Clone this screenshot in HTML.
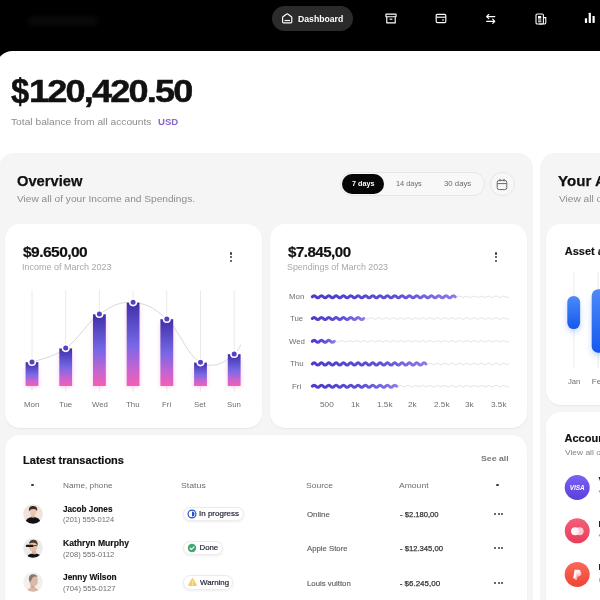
<!DOCTYPE html>
<html lang="en">
<head>
<meta charset="utf-8">
<title>Dashboard</title>
<style>
*{box-sizing:border-box;margin:0;padding:0}
html,body{width:600px;height:600px;overflow:hidden;background:#000;font-family:"Liberation Sans",sans-serif;color:#111}
.abs{position:absolute}
#root{position:relative;width:600px;height:600px;overflow:hidden;background:#000}
.t{position:absolute;white-space:nowrap;line-height:1;transform-origin:0 0}
.b{font-weight:700}
#main{left:-3.6px;top:50.7px;width:620px;height:560px;background:#fff;border-radius:16.6px 0 0 0}
#ov{left:-1px;top:153px;width:533.5px;height:460px;background:#f5f5f5;border-radius:15px 15px 0 0}
#ya{left:540px;top:153px;width:80px;height:460px;background:#f5f5f5;border-radius:15px 0 0 0}
.card{position:absolute;background:#fff;border-radius:15px;box-shadow:0 1px 2px rgba(0,0,0,.06)}
.pill{position:absolute;border-radius:20px}
.badge{position:absolute;height:14.4px;border-radius:8px;background:#fff;border:1px solid #ececec;box-shadow:0 1px 3px rgba(0,0,0,.07)}
.dot{position:absolute;border-radius:50%}
</style>
</head>
<body>
<div id="root">
  <!-- NAV -->
  <div class="abs" style="left:28px;top:16px;width:70px;height:10px;background:#090909;border-radius:5px;filter:blur(2px)"></div>
  <div class="pill" style="left:272px;top:6.3px;width:81px;height:25.2px;background:#2b2b2b"></div>
  <svg class="abs" style="left:281px;top:12px" width="13" height="13" viewBox="0 0 13 13" fill="none" stroke="#fff" stroke-width="1.15" stroke-linejoin="round"><path d="M1.6 5.5 Q1.6 5 2 4.7 L5.7 2 Q6.2 1.6 6.7 2 L10.4 4.7 Q10.8 5 10.8 5.5 V9.9 Q10.8 10.8 9.9 10.8 H2.5 Q1.6 10.8 1.6 9.9 Z"/><path d="M3.5 8.5 H8.9"/></svg>
  <svg class="abs" style="left:385px;top:13px" width="12" height="11" viewBox="0 0 12 11" fill="none" stroke="#fff" stroke-width="1.15"><rect x="0.9" y="1.1" width="10.2" height="2.6" rx=".5"/><path d="M1.8 3.7 V9.9 H10.2 V3.7"/><path d="M4.6 6.2 H7.4"/></svg>
  <svg class="abs" style="left:434.5px;top:13px" width="12" height="11" viewBox="0 0 12 11" fill="none" stroke="#fff" stroke-width="1.15"><rect x="1.2" y="1.4" width="9.6" height="8.2" rx="1.2"/><path d="M1.2 4.2 H10.8"/><path d="M7 7 H9"/></svg>
  <svg class="abs" style="left:484.5px;top:12.5px" width="12" height="12" viewBox="0 0 12 12" fill="none" stroke="#fff" stroke-width="1.15" stroke-linecap="round" stroke-linejoin="round"><path d="M9.8 3.6 H1.8 M3.7 1.5 L1.6 3.6 L3.7 5.7"/><path d="M1.6 8.3 H9.6 M7.7 6.2 L9.8 8.3 L7.7 10.4"/></svg>
  <svg class="abs" style="left:534.5px;top:12.5px" width="12" height="12" viewBox="0 0 12 12" fill="none" stroke="#fff" stroke-width="1.1"><rect x="1" y="1" width="7.4" height="10" rx="1.2"/><path d="M8.4 4.6 H10.8 V9.8 Q10.8 11 9.6 11 H4"/><rect x="3" y="3" width="3.2" height="2.6" fill="#fff" stroke="none"/><path d="M3 7 H6.4 M3 8.8 H6.4"/></svg>
  <svg class="abs" style="left:584.3px;top:12.1px" width="12" height="12" viewBox="0 0 12 12" fill="#fff"><rect x="0.9" y="6.2" width="2.2" height="4.8" rx=".4"/><rect x="4.7" y="0.8" width="2.2" height="10.2" rx=".4"/><rect x="8.5" y="4" width="2.2" height="7" rx=".4"/></svg>

  <!-- MAIN WHITE -->
  <div id="main" class="abs"></div>
  <div id="ov" class="abs"></div>
  <div id="ya" class="abs"></div>

  <!-- range pills -->
  <div class="pill" style="left:340px;top:171.5px;width:144.5px;height:24.5px;border:1px solid #e6e6e6;background:#f8f8f8"></div>
  <div class="pill" style="left:342.2px;top:173.8px;width:41.6px;height:20.2px;background:#060606"></div>
  <div class="pill" style="left:490px;top:171.5px;width:24.5px;height:24.5px;border:1px solid #e4e4e4;background:#f8f8f8"></div>
  <svg class="abs" style="left:496.3px;top:177.8px" width="12" height="13" viewBox="0 0 12 13" fill="none" stroke="#686868" stroke-width="1"><rect x="1.2" y="2.4" width="9.6" height="9.2" rx="2"/><path d="M1.2 5.6 H10.8 M4 0.8 V3.4 M8 0.8 V3.4"/></svg>

  <!-- CARDS -->
  <div class="card" style="left:4.6px;top:224px;width:257.8px;height:204px"></div>
  <div class="card" style="left:269.6px;top:224px;width:257.8px;height:204px"></div>
  <div class="card" style="left:4.6px;top:435.1px;width:522.8px;height:200px"></div>
  <div class="card" style="left:545.8px;top:224px;width:80px;height:180.5px"></div>
  <div class="card" style="left:545.8px;top:412px;width:80px;height:220px"></div>

  <!-- kebab menus -->

  <div class="dot" style="left:230.20px;top:252.40px;width:2.2px;height:2.2px;background:#3a3a3a"></div>
  <div class="dot" style="left:230.20px;top:256.20px;width:2.2px;height:2.2px;background:#3a3a3a"></div>
  <div class="dot" style="left:230.20px;top:260.00px;width:2.2px;height:2.2px;background:#3a3a3a"></div>
  <div class="dot" style="left:495.00px;top:252.40px;width:2.2px;height:2.2px;background:#3a3a3a"></div>
  <div class="dot" style="left:495.00px;top:256.20px;width:2.2px;height:2.2px;background:#3a3a3a"></div>
  <div class="dot" style="left:495.00px;top:260.00px;width:2.2px;height:2.2px;background:#3a3a3a"></div>
  <div class="dot" style="left:31.20px;top:483.70px;width:2.8px;height:2.8px;background:#3a3a3a"></div>
  <div class="dot" style="left:495.90px;top:483.60px;width:2.8px;height:2.8px;background:#3a3a3a"></div>
  <div class="dot" style="left:493.80px;top:512.80px;width:2.2px;height:2.2px;background:#3a3a3a"></div>
  <div class="dot" style="left:497.55px;top:512.80px;width:2.2px;height:2.2px;background:#3a3a3a"></div>
  <div class="dot" style="left:501.30px;top:512.80px;width:2.2px;height:2.2px;background:#3a3a3a"></div>
  <div class="dot" style="left:493.80px;top:547.20px;width:2.2px;height:2.2px;background:#3a3a3a"></div>
  <div class="dot" style="left:497.55px;top:547.20px;width:2.2px;height:2.2px;background:#3a3a3a"></div>
  <div class="dot" style="left:501.30px;top:547.20px;width:2.2px;height:2.2px;background:#3a3a3a"></div>
  <div class="dot" style="left:493.80px;top:581.60px;width:2.2px;height:2.2px;background:#3a3a3a"></div>
  <div class="dot" style="left:497.55px;top:581.60px;width:2.2px;height:2.2px;background:#3a3a3a"></div>
  <div class="dot" style="left:501.30px;top:581.60px;width:2.2px;height:2.2px;background:#3a3a3a"></div>
  <!-- CHARTS -->
  <svg class="abs" style="left:0;top:0" width="600" height="600" viewBox="0 0 600 600">
    <defs>
      <linearGradient id="bg0" gradientUnits="userSpaceOnUse" x1="0" y1="362.2" x2="0" y2="386.0"><stop offset="0" stop-color="#3f2fa8"/><stop offset="0.5" stop-color="#7667e6"/><stop offset="0.78" stop-color="#c264d2"/><stop offset="1" stop-color="#f45fb4"/></linearGradient><linearGradient id="bg1" gradientUnits="userSpaceOnUse" x1="0" y1="348.4" x2="0" y2="386.0"><stop offset="0" stop-color="#3f2fa8"/><stop offset="0.5" stop-color="#7667e6"/><stop offset="0.78" stop-color="#c264d2"/><stop offset="1" stop-color="#f45fb4"/></linearGradient><linearGradient id="bg2" gradientUnits="userSpaceOnUse" x1="0" y1="314.3" x2="0" y2="386.0"><stop offset="0" stop-color="#3f2fa8"/><stop offset="0.5" stop-color="#7667e6"/><stop offset="0.78" stop-color="#c264d2"/><stop offset="1" stop-color="#f45fb4"/></linearGradient><linearGradient id="bg3" gradientUnits="userSpaceOnUse" x1="0" y1="302.6" x2="0" y2="386.0"><stop offset="0" stop-color="#3f2fa8"/><stop offset="0.5" stop-color="#7667e6"/><stop offset="0.78" stop-color="#c264d2"/><stop offset="1" stop-color="#f45fb4"/></linearGradient><linearGradient id="bg4" gradientUnits="userSpaceOnUse" x1="0" y1="319.2" x2="0" y2="386.0"><stop offset="0" stop-color="#3f2fa8"/><stop offset="0.5" stop-color="#7667e6"/><stop offset="0.78" stop-color="#c264d2"/><stop offset="1" stop-color="#f45fb4"/></linearGradient><linearGradient id="bg5" gradientUnits="userSpaceOnUse" x1="0" y1="362.6" x2="0" y2="386.0"><stop offset="0" stop-color="#3f2fa8"/><stop offset="0.5" stop-color="#7667e6"/><stop offset="0.78" stop-color="#c264d2"/><stop offset="1" stop-color="#f45fb4"/></linearGradient><linearGradient id="bg6" gradientUnits="userSpaceOnUse" x1="0" y1="354.2" x2="0" y2="386.0"><stop offset="0" stop-color="#3f2fa8"/><stop offset="0.5" stop-color="#7667e6"/><stop offset="0.78" stop-color="#c264d2"/><stop offset="1" stop-color="#f45fb4"/></linearGradient>
      <linearGradient id="wg" x1="0" y1="0" x2="1" y2="0"><stop offset="0" stop-color="#4b3bcc"/><stop offset="0.6" stop-color="#5f50d8"/><stop offset="1" stop-color="#8a7be8"/></linearGradient>
      <filter id="bl" x="-50%" y="-50%" width="200%" height="200%"><feGaussianBlur stdDeviation="2.2"/></filter>
      <filter id="bl2" x="-80%" y="-50%" width="260%" height="200%"><feGaussianBlur stdDeviation="3"/></filter>
      <linearGradient id="blu" x1="0" y1="0" x2="0" y2="1"><stop offset="0" stop-color="#4d8af8"/><stop offset="1" stop-color="#1558ee"/></linearGradient>
    </defs>
    <g stroke="#eaeaea" stroke-width="1"><path d="M32.00 290.5 V391.5"/><path d="M65.70 290.5 V391.5"/><path d="M99.40 290.5 V391.5"/><path d="M133.10 290.5 V391.5"/><path d="M166.80 290.5 V391.5"/><path d="M200.50 290.5 V391.5"/><path d="M234.20 290.5 V391.5"/></g>
    <path d="M32.0 362.2 C38.7 359.4 52.2 358.0 65.7 348.4 C79.2 338.8 85.9 323.5 99.4 314.3 C112.9 305.1 119.6 301.6 133.1 302.6 C146.6 303.6 153.3 307.2 166.8 319.2 C180.3 331.2 187.0 355.6 200.5 362.6 C214.0 369.6 226 361.5 234.2 354.2 C236.8 351.8 239 348.6 240.8 344.8" fill="none" stroke="#d9d9d9" stroke-width="1"/>
    <g fill="#f58fd6" opacity=".38" filter="url(#bl)"><rect x="25.10" y="366.2" width="13.8" height="20.8" rx="2"/><rect x="58.80" y="352.4" width="13.8" height="34.6" rx="2"/><rect x="92.50" y="318.3" width="13.8" height="68.7" rx="2"/><rect x="126.20" y="306.6" width="13.8" height="80.4" rx="2"/><rect x="159.90" y="323.2" width="13.8" height="63.8" rx="2"/><rect x="193.60" y="366.6" width="13.8" height="20.4" rx="2"/><rect x="227.30" y="358.2" width="13.8" height="28.8" rx="2"/></g>
    <rect x="25.60" y="362.2" width="12.8" height="23.8" fill="url(#bg0)"/><rect x="59.30" y="348.4" width="12.8" height="37.6" fill="url(#bg1)"/><rect x="93.00" y="314.3" width="12.8" height="71.7" fill="url(#bg2)"/><rect x="126.70" y="302.6" width="12.8" height="83.4" fill="url(#bg3)"/><rect x="160.40" y="319.2" width="12.8" height="66.8" fill="url(#bg4)"/><rect x="194.10" y="362.6" width="12.8" height="23.4" fill="url(#bg5)"/><rect x="227.80" y="354.2" width="12.8" height="31.8" fill="url(#bg6)"/>
    <circle cx="32.00" cy="361.9" r="3.3" fill="#5a3fc2" stroke="#fff" stroke-width="1.6"/><circle cx="65.70" cy="348.1" r="3.3" fill="#5a3fc2" stroke="#fff" stroke-width="1.6"/><circle cx="99.40" cy="314.0" r="3.3" fill="#5a3fc2" stroke="#fff" stroke-width="1.6"/><circle cx="133.10" cy="302.3" r="3.3" fill="#5a3fc2" stroke="#fff" stroke-width="1.6"/><circle cx="166.80" cy="318.9" r="3.3" fill="#5a3fc2" stroke="#fff" stroke-width="1.6"/><circle cx="200.50" cy="362.3" r="3.3" fill="#5a3fc2" stroke="#fff" stroke-width="1.6"/><circle cx="234.20" cy="353.9" r="3.3" fill="#5a3fc2" stroke="#fff" stroke-width="1.6"/>
    <path d="M311.00 296.80 q1.833 -1.60 3.665 0 t3.665 0 t3.665 0 t3.665 0 t3.665 0 t3.665 0 t3.665 0 t3.665 0 t3.665 0 t3.665 0 t3.665 0 t3.665 0 t3.665 0 t3.665 0 t3.665 0 t3.665 0 t3.665 0 t3.665 0 t3.665 0 t3.665 0 t3.665 0 t3.665 0 t3.665 0 t3.665 0 t3.665 0 t3.665 0 t3.665 0 t3.665 0 t3.665 0 t3.665 0 t3.665 0 t3.665 0 t3.665 0 t3.665 0 t3.665 0 t3.665 0 t3.665 0 t3.665 0 t3.665 0 t3.665 0 t3.665 0 t3.665 0 t3.665 0 t3.665 0 t3.665 0 t3.665 0 t3.665 0 t3.665 0 t3.665 0 t3.665 0 t3.665 0 t3.665 0 t3.665 0 t3.665 0" stroke="#e3e3e3" stroke-width="1" fill="none"/>
<path d="M311.00 318.50 q1.833 -1.60 3.665 0 t3.665 0 t3.665 0 t3.665 0 t3.665 0 t3.665 0 t3.665 0 t3.665 0 t3.665 0 t3.665 0 t3.665 0 t3.665 0 t3.665 0 t3.665 0 t3.665 0 t3.665 0 t3.665 0 t3.665 0 t3.665 0 t3.665 0 t3.665 0 t3.665 0 t3.665 0 t3.665 0 t3.665 0 t3.665 0 t3.665 0 t3.665 0 t3.665 0 t3.665 0 t3.665 0 t3.665 0 t3.665 0 t3.665 0 t3.665 0 t3.665 0 t3.665 0 t3.665 0 t3.665 0 t3.665 0 t3.665 0 t3.665 0 t3.665 0 t3.665 0 t3.665 0 t3.665 0 t3.665 0 t3.665 0 t3.665 0 t3.665 0 t3.665 0 t3.665 0 t3.665 0 t3.665 0" stroke="#e3e3e3" stroke-width="1" fill="none"/>
<path d="M311.00 341.30 q1.833 -1.60 3.665 0 t3.665 0 t3.665 0 t3.665 0 t3.665 0 t3.665 0 t3.665 0 t3.665 0 t3.665 0 t3.665 0 t3.665 0 t3.665 0 t3.665 0 t3.665 0 t3.665 0 t3.665 0 t3.665 0 t3.665 0 t3.665 0 t3.665 0 t3.665 0 t3.665 0 t3.665 0 t3.665 0 t3.665 0 t3.665 0 t3.665 0 t3.665 0 t3.665 0 t3.665 0 t3.665 0 t3.665 0 t3.665 0 t3.665 0 t3.665 0 t3.665 0 t3.665 0 t3.665 0 t3.665 0 t3.665 0 t3.665 0 t3.665 0 t3.665 0 t3.665 0 t3.665 0 t3.665 0 t3.665 0 t3.665 0 t3.665 0 t3.665 0 t3.665 0 t3.665 0 t3.665 0 t3.665 0" stroke="#e3e3e3" stroke-width="1" fill="none"/>
<path d="M311.00 363.90 q1.833 -1.60 3.665 0 t3.665 0 t3.665 0 t3.665 0 t3.665 0 t3.665 0 t3.665 0 t3.665 0 t3.665 0 t3.665 0 t3.665 0 t3.665 0 t3.665 0 t3.665 0 t3.665 0 t3.665 0 t3.665 0 t3.665 0 t3.665 0 t3.665 0 t3.665 0 t3.665 0 t3.665 0 t3.665 0 t3.665 0 t3.665 0 t3.665 0 t3.665 0 t3.665 0 t3.665 0 t3.665 0 t3.665 0 t3.665 0 t3.665 0 t3.665 0 t3.665 0 t3.665 0 t3.665 0 t3.665 0 t3.665 0 t3.665 0 t3.665 0 t3.665 0 t3.665 0 t3.665 0 t3.665 0 t3.665 0 t3.665 0 t3.665 0 t3.665 0 t3.665 0 t3.665 0 t3.665 0 t3.665 0" stroke="#e3e3e3" stroke-width="1" fill="none"/>
<path d="M311.00 386.20 q1.833 -1.60 3.665 0 t3.665 0 t3.665 0 t3.665 0 t3.665 0 t3.665 0 t3.665 0 t3.665 0 t3.665 0 t3.665 0 t3.665 0 t3.665 0 t3.665 0 t3.665 0 t3.665 0 t3.665 0 t3.665 0 t3.665 0 t3.665 0 t3.665 0 t3.665 0 t3.665 0 t3.665 0 t3.665 0 t3.665 0 t3.665 0 t3.665 0 t3.665 0 t3.665 0 t3.665 0 t3.665 0 t3.665 0 t3.665 0 t3.665 0 t3.665 0 t3.665 0 t3.665 0 t3.665 0 t3.665 0 t3.665 0 t3.665 0 t3.665 0 t3.665 0 t3.665 0 t3.665 0 t3.665 0 t3.665 0 t3.665 0 t3.665 0 t3.665 0 t3.665 0 t3.665 0 t3.665 0 t3.665 0" stroke="#e3e3e3" stroke-width="1" fill="none"/>
<path d="M312.30 296.80 q1.833 -2.10 3.665 0 t3.665 0 t3.665 0 t3.665 0 t3.665 0 t3.665 0 t3.665 0 t3.665 0 t3.665 0 t3.665 0 t3.665 0 t3.665 0 t3.665 0 t3.665 0 t3.665 0 t3.665 0 t3.665 0 t3.665 0 t3.665 0 t3.665 0 t3.665 0 t3.665 0 t3.665 0 t3.665 0 t3.665 0 t3.665 0 t3.665 0 t3.665 0 t3.665 0 t3.665 0 t3.665 0 t3.665 0 t3.665 0 t3.665 0 t3.665 0 t3.665 0 t3.665 0 t3.665 0 t3.665 0" stroke="url(#wg)" stroke-width="3" stroke-linecap="round" fill="none"/>
<path d="M312.30 318.50 q1.833 -2.10 3.665 0 t3.665 0 t3.665 0 t3.665 0 t3.665 0 t3.665 0 t3.665 0 t3.665 0 t3.665 0 t3.665 0 t3.665 0 t3.665 0 t3.665 0 t3.665 0" stroke="url(#wg)" stroke-width="3" stroke-linecap="round" fill="none"/>
<path d="M312.30 341.30 q1.833 -2.10 3.665 0 t3.665 0 t3.665 0 t3.665 0 t3.665 0 t3.665 0" stroke="url(#wg)" stroke-width="3" stroke-linecap="round" fill="none"/>
<path d="M312.30 363.90 q1.833 -2.10 3.665 0 t3.665 0 t3.665 0 t3.665 0 t3.665 0 t3.665 0 t3.665 0 t3.665 0 t3.665 0 t3.665 0 t3.665 0 t3.665 0 t3.665 0 t3.665 0 t3.665 0 t3.665 0 t3.665 0 t3.665 0 t3.665 0 t3.665 0 t3.665 0 t3.665 0 t3.665 0 t3.665 0 t3.665 0 t3.665 0 t3.665 0 t3.665 0 t3.665 0 t3.665 0 t3.665 0" stroke="url(#wg)" stroke-width="3" stroke-linecap="round" fill="none"/>
<path d="M312.30 386.20 q1.833 -2.10 3.665 0 t3.665 0 t3.665 0 t3.665 0 t3.665 0 t3.665 0 t3.665 0 t3.665 0 t3.665 0 t3.665 0 t3.665 0 t3.665 0 t3.665 0 t3.665 0 t3.665 0 t3.665 0 t3.665 0 t3.665 0 t3.665 0 t3.665 0 t3.665 0 t3.665 0 t3.665 0" stroke="url(#wg)" stroke-width="3" stroke-linecap="round" fill="none"/>

    <!-- asset chart -->
    <path d="M573.9 271.5 V368.5 M598.2 271.5 V368.5" stroke="#ebebeb" stroke-width="1"/>
    <rect x="567.3" y="300" width="12.8" height="32" rx="6.4" fill="#3b7bf7" opacity=".3" filter="url(#bl2)"/>
    <rect x="591.7" y="296" width="14" height="60" rx="6.4" fill="#3b7bf7" opacity=".3" filter="url(#bl2)"/>
    <rect x="567.3" y="296" width="12.8" height="33" rx="6.4" fill="url(#blu)"/>
    <rect x="591.7" y="289.3" width="14" height="63.4" rx="6.4" fill="url(#blu)"/>
  </svg>

  <!-- TRANSACTIONS -->

  <div class="badge" style="left:182.5px;top:506.6px;width:61.8px"></div>
  <div class="badge" style="left:182.5px;top:540.8px;width:40.4px"></div>
  <div class="badge" style="left:182.5px;top:575.2px;width:50.8px"></div>
  <svg class="abs" style="left:187.1px;top:508.9px" width="10" height="10" viewBox="0 0 10 10"><circle cx="5" cy="5" r="3.9" fill="#fff" stroke="#2452c8" stroke-width="1.15"/><path d="M5 2.5 A2.5 2.5 0 0 1 5 7.5 Z" fill="#2452c8"/></svg>
  <svg class="abs" style="left:187.1px;top:543px" width="10" height="10" viewBox="0 0 10 10"><circle cx="5" cy="5" r="4.2" fill="#3fa873"/><path d="M3.1 5.1 L4.5 6.5 L7 3.8" fill="none" stroke="#fff" stroke-width="1.1" stroke-linecap="round" stroke-linejoin="round"/></svg>
  <svg class="abs" style="left:186.9px;top:577.4px" width="11" height="10" viewBox="0 0 11 10"><path d="M5.5 1.9 L9.2 8.2 H1.8 Z" fill="#f8cc63" stroke="#f8cc63" stroke-width="1.4" stroke-linejoin="round"/><path d="M5.5 4.2 V6.2 M5.5 7.4 V7.6" stroke="#fdeec4" stroke-width=".8" stroke-linecap="round"/></svg>

  <!-- avatars -->
  <svg class="abs" style="left:22.8px;top:504px" width="20" height="20" viewBox="0 0 20 20"><defs><clipPath id="av"><circle cx="10" cy="10" r="9.8"/></clipPath></defs><g clip-path="url(#av)"><rect width="20" height="20" fill="#f0e3dc"/><path d="M2 20 Q2.6 13 10 13 Q17.4 13 18 20 Z" fill="#121212"/><path d="M8.2 9.5 H11.8 V13 Q10 14.6 8.2 13 Z" fill="#e0b7a1"/><ellipse cx="10" cy="7.6" rx="3.2" ry="3.9" fill="#ebc5af"/><path d="M6 7.2 Q5.2 1.8 10 1.9 Q15 1.8 14 7.2 Q13.2 4.9 10.6 5.1 Q7.4 4.9 6 7.2 Z" fill="#3a2a22"/></g></svg>
  <svg class="abs" style="left:22.8px;top:537.8px" width="20" height="20" viewBox="0 0 20 20"><g clip-path="url(#av)"><rect width="20" height="20" fill="#ebebeb"/><path d="M3.6 20 Q4.6 15.6 11 15.6 Q17.6 15.6 18.6 20 Z" fill="#141414"/><path d="M9 10.5 H13 V16 Q11 17 9 15.6 Z" fill="#dbb098"/><path d="M5.6 7.6 Q5.6 3 9.8 2.8 Q14.4 2.8 14.4 7.8 Q14.4 13.4 10.2 13.4 Q7 13.4 6.2 10.6 Z" fill="#e8bfa7"/><path d="M6 5.6 Q6.8 1.6 10.8 1.8 Q15.4 2.2 14.6 7.8 Q13.2 4.6 10 4.8 Q7.4 4.8 6 5.6 Z" fill="#4a392d"/><rect x="2.8" y="6.8" width="7.8" height="2.2" rx=".9" fill="#1a1413"/><path d="M10.6 7.6 H14" stroke="#1a1413" stroke-width=".7"/></g></svg>
  <svg class="abs" style="left:22.8px;top:572.2px" width="20" height="20" viewBox="0 0 20 20"><g clip-path="url(#av)"><rect width="20" height="20" fill="#f3efec"/><path d="M3.6 20 Q5 15.4 10 15 Q14.6 15.4 16 20 Z" fill="#d8b8a5"/><path d="M7.6 10.6 H11.6 V15.6 Q9.6 16.4 7.6 15.4 Z" fill="#cdaa96"/><path d="M5.8 7.6 Q5.8 2.6 10.2 2.4 Q14.8 2.6 14.8 7.4 Q15 11 14 12.4 Q13 13.8 10.8 13.8 Q7.2 13.6 6.4 10.8 Z" fill="#dbbaa7"/><path d="M5.8 7 Q5.8 2.2 10.4 2.2 Q13.6 2.2 14.4 4.8 Q11.4 3.8 9.6 5.6 Q8.6 7.6 7.6 10 Q5.9 9.6 5.8 7 Z" fill="#85776f"/></g></svg>

  <!-- account circles -->
  <svg class="abs" style="left:560px;top:470px" width="40" height="125" viewBox="560 470 40 125">
    <defs>
      <linearGradient id="g1" x1="0" y1="0" x2="0" y2="1"><stop offset="0" stop-color="#7c61f2"/><stop offset="1" stop-color="#5b3fdc"/></linearGradient>
      <linearGradient id="g2" x1="0" y1="0" x2="0" y2="1"><stop offset="0" stop-color="#f4607a"/><stop offset="1" stop-color="#e73d5a"/></linearGradient>
      <linearGradient id="g3" x1="0" y1="0" x2="0" y2="1"><stop offset="0" stop-color="#f9695a"/><stop offset="1" stop-color="#ee4436"/></linearGradient>
    </defs>
    <circle cx="577.2" cy="487.5" r="12.5" fill="url(#g1)"/>
    <circle cx="577.2" cy="530.8" r="12.5" fill="url(#g2)"/>
    <circle cx="577.2" cy="574.4" r="12.5" fill="url(#g3)"/>
    <text x="577.2" y="490" text-anchor="middle" font-family="Liberation Sans, sans-serif" font-weight="700" font-style="italic" font-size="6.4" fill="#fff">VISA</text>
    <circle cx="575.1" cy="531.2" r="4" fill="#fff" opacity=".95"/><circle cx="579.6" cy="531.2" r="4" fill="#ffe9ed" opacity=".8"/>
    <path d="M574.6 569.8 H578.2 Q580.8 569.8 580.4 572.2 Q580 574.6 577.4 574.6 H576.2 L575.6 578.6 H573.2 Z" fill="#fff"/>
    <path d="M576.4 571.6 H579.4 Q581.8 571.8 581.4 574 Q580.9 576.4 578.4 576.4 H577.4 L576.9 579.8 H574.9 Z" fill="#ffd9d4" opacity=".8"/>
  </svg>
  <div class="t b" style="left:598.4px;top:476px;font-size:8.4px;color:#111">Visa</div>
  <div class="t" style="left:598.4px;top:489px;font-size:7.5px;color:#777">**** 4421</div>
  <div class="t b" style="left:598.4px;top:519.5px;font-size:8.4px;color:#111">Mastercard</div>
  <div class="t" style="left:598.4px;top:532.5px;font-size:7.5px;color:#777">**** 8810</div>
  <div class="t b" style="left:598.4px;top:563px;font-size:8.4px;color:#111">Paypal</div>
  <div class="t" style="left:598.4px;top:576px;font-size:7.5px;color:#777">@paypal</div>

  <div class="t b" style="left:298.28px;top:15.09px;font-size:8.4px;color:#fff;transform:scaleX(1.0339)">Dashboard</div>
  <div class="t b" style="left:11.27px;top:72.77px;font-size:35px;color:#111;transform:scaleX(0.9368);-webkit-text-stroke:0.5px #111">$</div>
  <div class="t b" style="left:28.83px;top:74.51px;font-size:32px;color:#111;transform:scaleX(1.1273);letter-spacing:-1.6px;-webkit-text-stroke:0.5px #111">120,420.50</div>
  <div class="t" style="left:10.73px;top:117.16px;font-size:9.5px;color:#8c8c8c;transform:scaleX(1.0767)">Total balance from all accounts</div>
  <div class="t b" style="left:157.80px;top:117.16px;font-size:9.5px;color:#8a63d2;transform:scaleX(1.0078)">USD</div>
  <div class="t b" style="left:16.50px;top:174.04px;font-size:14.6px;color:#111;transform:scaleX(1.0078);-webkit-text-stroke:0.25px #111">Overview</div>
  <div class="t" style="left:17.00px;top:193.86px;font-size:9.5px;color:#8c8c8c;transform:scaleX(1.0679)">View all of your Income and Spendings.</div>
  <div class="t b" style="left:351.77px;top:180.30px;font-size:7.8px;color:#fff;transform:scaleX(0.9263)">7 days</div>
  <div class="t" style="left:395.53px;top:180.30px;font-size:7.8px;color:#6b6b6b;transform:scaleX(0.9434)">14 days</div>
  <div class="t" style="left:443.75px;top:180.30px;font-size:7.8px;color:#6b6b6b;transform:scaleX(0.9981)">30 days</div>
  <div class="t b" style="left:23.30px;top:244.53px;font-size:14.5px;color:#111;transform:scaleX(1.0700);letter-spacing:-0.5px;-webkit-text-stroke:0.2px #111">$9.650,00</div>
  <div class="t" style="left:22.19px;top:263.29px;font-size:8.4px;color:#a8a8a8;transform:scaleX(1.0736)">Income of March 2023</div>
  <div class="t b" style="left:288.20px;top:244.53px;font-size:14.5px;color:#111;transform:scaleX(1.0417);letter-spacing:-0.5px;-webkit-text-stroke:0.2px #111">$7.845,00</div>
  <div class="t" style="left:287.47px;top:263.29px;font-size:8.4px;color:#a8a8a8;transform:scaleX(1.0582)">Spendings of March 2023</div>
  <div class="t b" style="left:23.10px;top:455.39px;font-size:11px;color:#111;transform:scaleX(1.0000);-webkit-text-stroke:0.2px #111">Latest transactions</div>
  <div class="t b" style="left:480.93px;top:455.23px;font-size:8px;color:#7a7a7a;transform:scaleX(1.0898)">See all</div>
  <div class="t" style="left:63.17px;top:481.70px;font-size:7.8px;color:#6e6e6e;transform:scaleX(1.0587)">Name, phone</div>
  <div class="t" style="left:181.44px;top:481.70px;font-size:7.8px;color:#6e6e6e;transform:scaleX(1.1200)">Status</div>
  <div class="t" style="left:306.25px;top:481.70px;font-size:7.8px;color:#6e6e6e;transform:scaleX(1.0905)">Source</div>
  <div class="t" style="left:399.30px;top:481.70px;font-size:7.8px;color:#6e6e6e;transform:scaleX(1.0991)">Amount</div>
  <div class="t b" style="left:63.30px;top:504.69px;font-size:8.4px;color:#111;transform:scaleX(0.9743);-webkit-text-stroke:0.15px #111">Jacob Jones</div>
  <div class="t" style="left:62.90px;top:516.15px;font-size:7.5px;color:#6e6e6e;transform:scaleX(0.9980)">(201) 555-0124</div>
  <div class="t b" style="left:63.19px;top:539.29px;font-size:8.4px;color:#111;transform:scaleX(1.0275);-webkit-text-stroke:0.15px #111">Kathryn Murphy</div>
  <div class="t" style="left:63.29px;top:550.85px;font-size:7.5px;color:#6e6e6e;transform:scaleX(1.0120)">(208) 555-0112</div>
  <div class="t b" style="left:63.30px;top:573.39px;font-size:8.4px;color:#111;transform:scaleX(0.9944);-webkit-text-stroke:0.15px #111">Jenny Wilson</div>
  <div class="t" style="left:63.29px;top:584.85px;font-size:7.5px;color:#6e6e6e;transform:scaleX(1.0257)">(704) 555-0127</div>
  <div class="t" style="left:199.49px;top:510.20px;font-size:7.8px;color:#1e2230;transform:scaleX(1.0248);-webkit-text-stroke:0.2px #1e2230">In progress</div>
  <div class="t" style="left:199.50px;top:544.40px;font-size:7.8px;color:#1e2230;transform:scaleX(1.0000);-webkit-text-stroke:0.2px #1e2230">Done</div>
  <div class="t" style="left:200.00px;top:578.70px;font-size:7.8px;color:#1e2230;transform:scaleX(1.0105);-webkit-text-stroke:0.2px #1e2230">Warning</div>
  <div class="t" style="left:306.75px;top:510.61px;font-size:7.9px;color:#5e5e5e;transform:scaleX(0.9978);-webkit-text-stroke:0.15px #5e5e5e">Online</div>
  <div class="t" style="left:307.00px;top:544.81px;font-size:7.9px;color:#5e5e5e;transform:scaleX(0.9829);-webkit-text-stroke:0.15px #5e5e5e">Apple Store</div>
  <div class="t" style="left:306.51px;top:579.61px;font-size:7.9px;color:#5e5e5e;transform:scaleX(0.9885);-webkit-text-stroke:0.15px #5e5e5e">Louis vuitton</div>
  <div class="t" style="left:399.66px;top:510.53px;font-size:8px;color:#333;transform:scaleX(0.9525);-webkit-text-stroke:0.25px #333">- $2.180,00</div>
  <div class="t" style="left:399.66px;top:544.83px;font-size:8px;color:#333;transform:scaleX(0.9573);-webkit-text-stroke:0.25px #333">- $12.345,00</div>
  <div class="t" style="left:399.65px;top:579.53px;font-size:8px;color:#333;transform:scaleX(1.0000);-webkit-text-stroke:0.25px #333">- $6.245,00</div>
  <div class="t b" style="left:558.40px;top:174.14px;font-size:14.6px;color:#111;transform:scaleX(1.0350);-webkit-text-stroke:0.25px #111">Your Assets</div>
  <div class="t" style="left:558.50px;top:193.96px;font-size:9.5px;color:#8c8c8c;transform:scaleX(1.0650)">View all of your assets</div>
  <div class="t b" style="left:564.75px;top:245.69px;font-size:11px;color:#111;transform:scaleX(1.0000);-webkit-text-stroke:0.15px #111">Asset allocation</div>
  <div class="t" style="left:568.06px;top:377.73px;font-size:8px;color:#6e6e6e;transform:scaleX(0.9551)">Jan</div>
  <div class="t" style="left:591.75px;top:377.73px;font-size:8px;color:#6e6e6e;transform:scaleX(1.0000)">Feb</div>
  <div class="t b" style="left:564.55px;top:432.59px;font-size:11px;color:#111;transform:scaleX(1.0000);-webkit-text-stroke:0.2px #111">Accounts</div>
  <div class="t" style="left:565.00px;top:448.53px;font-size:8px;color:#838383;transform:scaleX(1.0500)">View all of your accounts</div>
  <div class="t" style="left:24.28px;top:400.83px;font-size:8px;color:#6e6e6e;transform:scaleX(0.9800)">Mon</div>
  <div class="t" style="left:59.09px;top:400.83px;font-size:8px;color:#6e6e6e;transform:scaleX(0.9800)">Tue</div>
  <div class="t" style="left:91.68px;top:400.83px;font-size:8px;color:#6e6e6e;transform:scaleX(0.9800)">Wed</div>
  <div class="t" style="left:126.49px;top:400.83px;font-size:8px;color:#6e6e6e;transform:scaleX(0.9800)">Thu</div>
  <div class="t" style="left:162.15px;top:400.83px;font-size:8px;color:#6e6e6e;transform:scaleX(0.9800)">Fri</div>
  <div class="t" style="left:194.38px;top:400.83px;font-size:8px;color:#6e6e6e;transform:scaleX(0.9800)">Set</div>
  <div class="t" style="left:227.22px;top:400.83px;font-size:8px;color:#6e6e6e;transform:scaleX(0.9800)">Sun</div>
  <div class="t" style="left:289.28px;top:293.03px;font-size:8px;color:#6e6e6e;transform:scaleX(0.9800)">Mon</div>
  <div class="t" style="left:290.38px;top:315.33px;font-size:8px;color:#6e6e6e;transform:scaleX(0.9800)">Tue</div>
  <div class="t" style="left:289.28px;top:337.93px;font-size:8px;color:#6e6e6e;transform:scaleX(0.9800)">Wed</div>
  <div class="t" style="left:290.38px;top:360.23px;font-size:8px;color:#6e6e6e;transform:scaleX(0.9800)">Thu</div>
  <div class="t" style="left:292.34px;top:382.53px;font-size:8px;color:#6e6e6e;transform:scaleX(0.9800)">Fri</div>
  <div class="t" style="left:320.48px;top:400.73px;font-size:8px;color:#6e6e6e;transform:scaleX(1.0300)">500</div>
  <div class="t" style="left:351.17px;top:400.73px;font-size:8px;color:#6e6e6e;transform:scaleX(1.0300)">1k</div>
  <div class="t" style="left:376.72px;top:400.73px;font-size:8px;color:#6e6e6e;transform:scaleX(1.0300)">1.5k</div>
  <div class="t" style="left:408.49px;top:400.73px;font-size:8px;color:#6e6e6e;transform:scaleX(1.0300)">2k</div>
  <div class="t" style="left:433.95px;top:400.73px;font-size:8px;color:#6e6e6e;transform:scaleX(1.0300)">2.5k</div>
  <div class="t" style="left:465.49px;top:400.73px;font-size:8px;color:#6e6e6e;transform:scaleX(1.0300)">3k</div>
  <div class="t" style="left:491.15px;top:400.73px;font-size:8px;color:#6e6e6e;transform:scaleX(1.0300)">3.5k</div>
</div>
</body>
</html>
